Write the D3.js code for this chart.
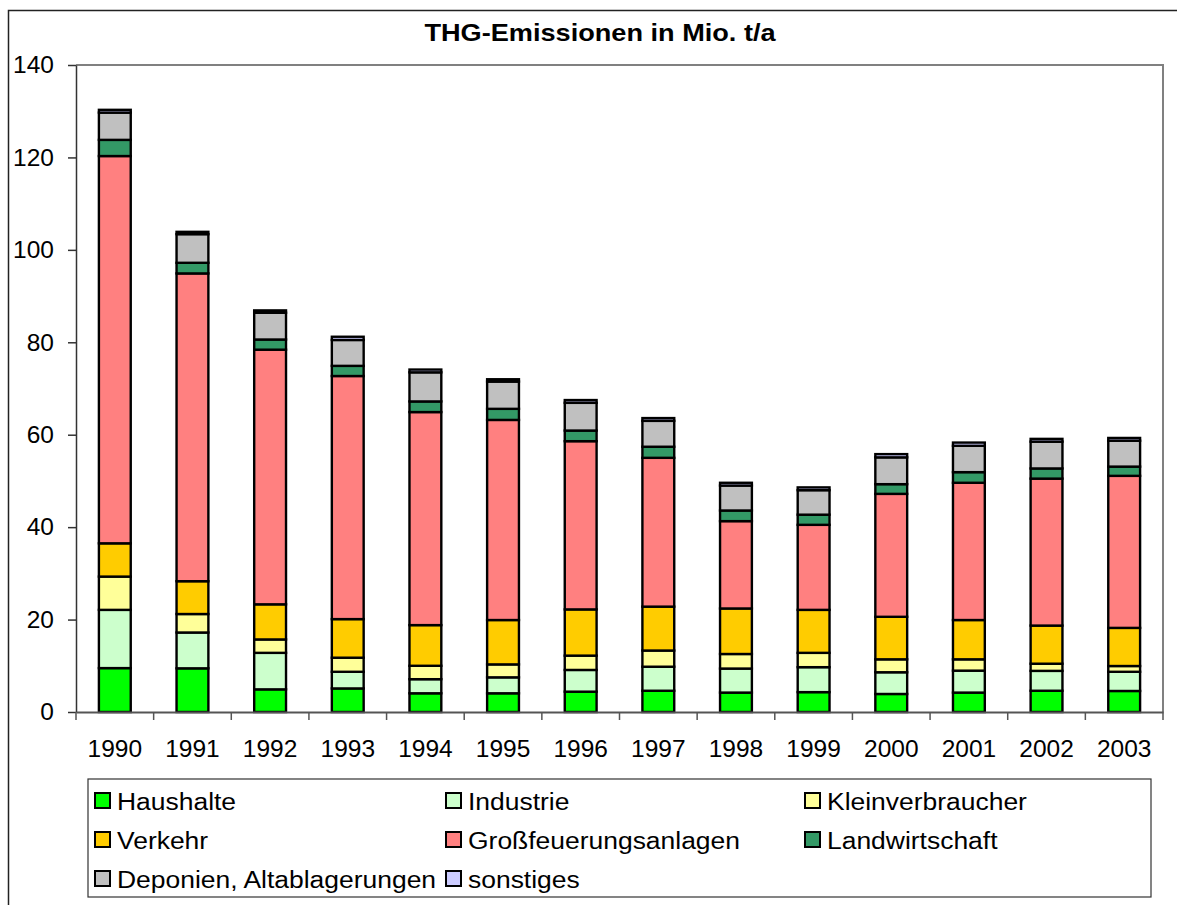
<!DOCTYPE html>
<html>
<head>
<meta charset="utf-8">
<script src="https://cdn.jsdelivr.net/npm/d3@7"></script>
<style>
  html, body { margin: 0; padding: 0; background: #fff; }
  svg { display: block; font-family: "Liberation Sans", Arial, sans-serif; }
</style>
</head>
<body>
<svg id="chart" width="1177" height="905"></svg>
<script>
// Treibhausgas-Emissionen nach Sektoren, Mio. t/a
const years = ["1990","1991","1992","1993","1994","1995","1996","1997","1998","1999","2000","2001","2002","2003"];

const haushalte        = [9.5, 9.45, 4.9, 5.1, 4.05, 4.05, 4.4, 4.6, 4.2, 4.3, 3.9, 4.2, 4.6, 4.55];
const industrie        = [12.6, 7.75, 7.9, 3.6, 3.05, 3.45, 4.7, 5.2, 5.2, 5.4, 4.7, 4.75, 4.3, 4.15];
const kleinverbraucher = [7.2, 4.0, 2.9, 3.05, 2.9, 2.8, 3.1, 3.5, 3.15, 3.1, 2.8, 2.45, 1.55, 1.25];
const verkehr          = [7.2, 7.1, 7.6, 8.35, 8.8, 9.6, 10.0, 9.5, 9.85, 9.3, 9.2, 8.5, 8.25, 8.25];
const grossfeuerung    = [83.8, 66.6, 55.1, 52.6, 46.1, 43.3, 36.4, 32.2, 18.9, 18.4, 26.6, 29.7, 31.8, 32.9];
const landwirtschaft   = [3.5, 2.3, 2.2, 2.2, 2.3, 2.4, 2.3, 2.4, 2.3, 2.2, 2.1, 2.3, 2.2, 2.0];
const deponien         = [5.9, 6.2, 5.8, 5.6, 6.3, 5.9, 6.0, 5.6, 5.4, 5.3, 5.8, 5.7, 5.8, 5.6];
const sonstiges        = [0.6, 0.5, 0.5, 0.7, 0.6, 0.5, 0.6, 0.6, 0.6, 0.6, 0.7, 0.7, 0.6, 0.6];

const seriesNames  = ["Haushalte","Industrie","Kleinverbraucher","Verkehr","Großfeuerungsanlagen","Landwirtschaft","Deponien, Altablagerungen","sonstiges"];
const seriesColors = ["#00ff00","#ccffcc","#ffff99","#ffcc00","#ff8080","#339966","#c0c0c0","#ccccff"];
const seriesValues = [haushalte, industrie, kleinverbraucher, verkehr, grossfeuerung, landwirtschaft, deponien, sonstiges];
const yTicks = [0, 20, 40, 60, 80, 100, 120, 140];

const svg = d3.select("#chart");

// outer chart frame
svg.append("rect")
  .attr("x", 8.5).attr("y", 10.5).attr("width", 1180).attr("height", 910)
  .attr("fill", "#fff").attr("stroke", "#222").attr("stroke-width", 1.5);

// title (slightly widened type)
svg.append("text")
  .attr("transform", "translate(600,41) scale(1.18,1)")
  .attr("text-anchor", "middle")
  .attr("font-size", 23).attr("font-weight", "bold")
  .text("THG-Emissionen in Mio. t/a");

const plot = { left: 76, top: 65, right: 1163, bottom: 712 };

const x = d3.scaleBand().domain(years).range([plot.left, plot.right]).paddingInner(0.59).paddingOuter(0.295);
const y = d3.scaleLinear().domain([0, 140]).range([plot.bottom, plot.top]);

// plot area border (top and right in grey)
svg.append("path")
  .attr("d", `M${plot.left},${plot.top}H${plot.right}V${plot.bottom}`)
  .attr("fill", "none").attr("stroke", "#808080").attr("stroke-width", 2);

// stacked data
const table = years.map((yr, i) => {
  const row = { year: yr };
  seriesNames.forEach((n, k) => { row[n] = seriesValues[k][i]; });
  return row;
});
const stacked = d3.stack().keys(seriesNames)(table);

svg.append("g").selectAll("g")
  .data(stacked)
  .join("g")
  .attr("fill", (d, k) => seriesColors[k])
  .selectAll("rect")
  .data(d => d)
  .join("rect")
  .attr("x", d => x(d.data.year))
  .attr("width", x.bandwidth())
  .attr("y", d => y(d[1]))
  .attr("height", d => y(d[0]) - y(d[1]))
  .attr("stroke", "#000")
  .attr("stroke-width", 2.4);

// y axis
const yAxis = svg.append("g")
  .attr("transform", `translate(${plot.left},0)`)
  .call(d3.axisLeft(y).tickValues(yTicks).tickSize(8).tickPadding(14).tickSizeOuter(0));
yAxis.select(".domain").attr("stroke", "#333").attr("stroke-width", 1.5);
yAxis.selectAll(".tick line").attr("stroke", "#333").attr("stroke-width", 1.5);
yAxis.selectAll("text").attr("font-size", 24.5).attr("fill", "#000")
  .attr("font-family", "'Liberation Sans', Arial, sans-serif");

// x axis with ticks at category boundaries
const xAxis = svg.append("g")
  .attr("transform", `translate(0,${plot.bottom})`)
  .call(d3.axisBottom(x).tickSize(0).tickPadding(28));
xAxis.select(".domain").attr("stroke", "#555").attr("stroke-width", 2);
xAxis.selectAll("text").attr("font-size", 24.5).attr("fill", "#000")
  .attr("font-family", "'Liberation Sans', Arial, sans-serif");
const step = x.step();
xAxis.selectAll("line.boundary")
  .data(d3.range(years.length + 1))
  .join("line")
  .attr("class", "boundary")
  .attr("x1", i => plot.left + i * step).attr("x2", i => plot.left + i * step)
  .attr("y1", 0).attr("y2", 8)
  .attr("stroke", "#555").attr("stroke-width", 1.5);

// legend
const legend = svg.append("g");
legend.append("rect")
  .attr("x", 88).attr("y", 779).attr("width", 1063).attr("height", 118)
  .attr("fill", "#fff").attr("stroke", "#333").attr("stroke-width", 1.2);

const colX = [95, 446, 805];
const rowY = [801, 840, 879];
seriesNames.forEach((n, k) => {
  const cx = colX[k % 3];
  const cy = rowY[Math.floor(k / 3)];
  legend.append("rect")
    .attr("x", cx).attr("y", cy - 8).attr("width", 15).attr("height", 15)
    .attr("fill", seriesColors[k]).attr("stroke", "#000").attr("stroke-width", 2);
  legend.append("text")
    .attr("transform", `translate(${cx + 22},${cy + 9}) scale(1.08,1)`)
    .attr("font-size", 24.5)
    .text(n);
});
</script>
</body>
</html>
